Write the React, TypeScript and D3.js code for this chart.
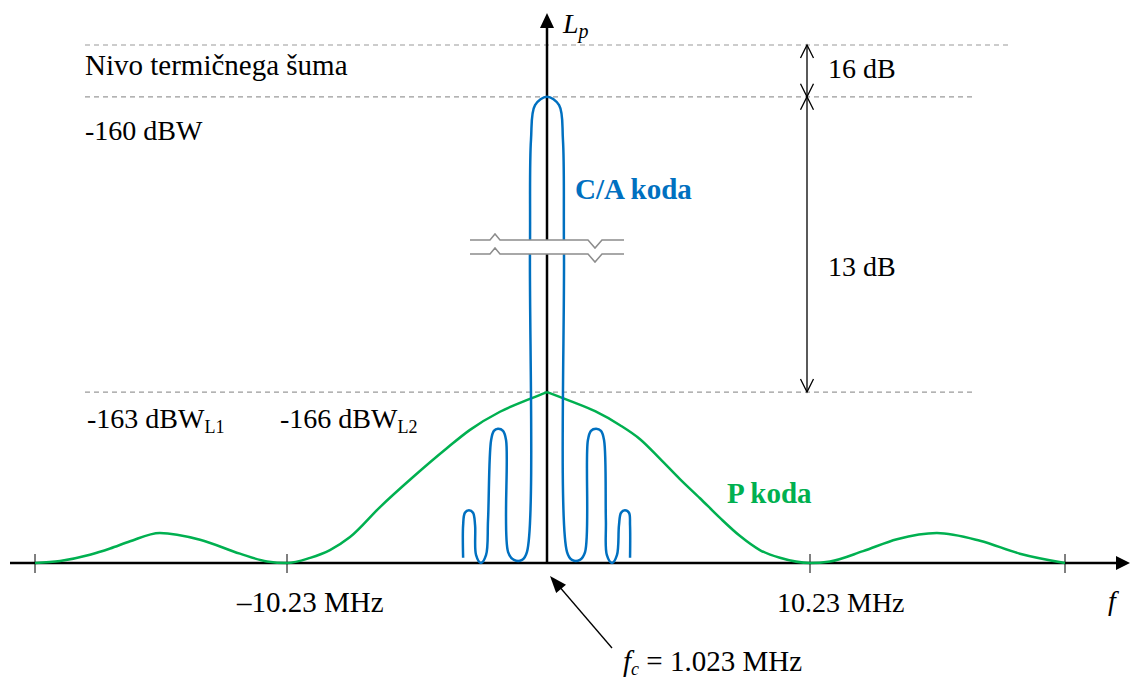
import React from 'react'
import * as d3 from 'd3'

const WIDTH = 1130
const HEIGHT = 678
const AXIS_Y = 563
const FONT = 'Liberation Serif, DejaVu Serif, serif'
const BLUE = '#0070C0'
const GREEN = '#00B050'

// frequency offset (MHz) of the axis ticks
const tickFreqs = [-20.46, -10.23, 10.23, 20.46]
const tickLabels = ['–10.23 MHz', '10.23 MHz']

// relative level (0 = axis, 100 = thermal noise)
const noiseLevel = 100
const caPeakLevel = 90
const pPeakLevel = 33

// P code envelope
const pFreq = [
  -20.46, -19.44, -18.23, -17.41, -16.6, -15.39, -13.76, -12.14, -11.04, -10.23,
  -9.32, -8.54, -7.75, -6.57, -5.27, -3.93, -3.03, -1.85, -0.67, 0,
  0.89, 1.87, 2.84, 3.62, 4.4, 5.17, 5.95, 6.73, 7.51, 8.28, 9.06, 10.23,
  11.03, 12.36, 13.72, 15.32, 17.05, 18.65, 20.46
]
const pLevel = [
  0, 0.4, 1.6, 2.8, 4.2, 5.8, 4.5, 1.8, 0.3, 0,
  1.0, 2.5, 5.0, 10.8, 16.6, 22.2, 25.7, 29.2, 31.7, 33,
  31.3, 29.3, 26.6, 23.9, 20.1, 16.2, 12.5, 8.7, 5.2, 2.5, 1.0, 0,
  0.3, 2.3, 4.6, 5.8, 4.3, 1.8, 0
]

// C/A code spectrum, traced as one line
const caFreq = [
  -3.3, -3.3, -3.23, -3.07, -2.91, -2.83, -2.79, -2.6, -2.4, -2.32, -2.2, -2.09, -1.93,
  -1.73, -1.61, -1.53, -1.3, -0.98, -0.79, -0.67, -0.63, -0.47, 0,
  0.47, 0.62, 0.66, 0.78, 0.97, 1.28, 1.48, 1.59, 1.71, 1.91, 2.1, 2.22, 2.29, 2.33,
  2.53, 2.72, 2.8, 2.88, 3.03, 3.19, 3.23, 3.23
]
const caLevel = [
  1.0, 7.3, 9.7, 10.2, 9.7, 7.3, 1.5, 0, 1.5, 8.3, 23.7, 25.5, 25.9,
  25.5, 23.7, 2.1, 0.6, 0.6, 2.1, 60.4, 81.7, 88.4, 90,
  88.4, 81.7, 60.4, 2.1, 0.6, 0.6, 2.1, 23.7, 25.5, 25.9, 25.5, 23.7, 8.3, 1.5,
  0, 1.5, 7.3, 9.7, 10.2, 9.7, 7.3, 1.0
]

const x = d3
  .scaleLinear()
  .domain([-20.46, -10.23, 0, 10.23, 20.46])
  .range([35, 287, 547, 810, 1065])

const y = d3.scaleLinear().domain([0, 100]).range([AXIS_Y, 45])

const pPoints = pFreq.map((f, i) => [f, pLevel[i]])
const caPoints = caFreq.map((f, i) => [f, caLevel[i]])

const pLine = d3
  .line()
  .x(d => x(d[0]))
  .y(d => y(d[1]))
  .curve(d3.curveMonotoneX)

const caLine = d3
  .line()
  .x(d => x(d[0]))
  .y(d => y(d[1]))
  .curve(d3.curveCatmullRom.alpha(0.5))

const openHead = (tx, ty, dir) => {
  // dir: 1 points down, -1 points up
  const len = 13
  const hw = 6.5
  return `M${tx - hw},${ty - dir * len}L${tx},${ty}L${tx + hw},${ty - dir * len}`
}

const filledHead = (tx, ty, fx, fy, len = 15, hw = 6.5) => {
  const dx = tx - fx
  const dy = ty - fy
  const d = Math.hypot(dx, dy)
  const ux = dx / d
  const uy = dy / d
  const bx = tx - ux * len
  const by = ty - uy * len
  return `M${tx},${ty}L${bx - uy * hw},${by + ux * hw}L${bx + uy * hw},${by - ux * hw}Z`
}

const App = () => {
  const x0 = x(0)
  const yNoise = y(noiseLevel)
  const yCa = y(caPeakLevel)
  const yP = y(pPeakLevel)
  const dimX = 807

  const breakY = 240
  const gap = 14
  const breakPts = (o: number) => [
    [470, breakY + o], [490, breakY + o], [495, breakY - 6 + o], [500, breakY + o],
    [588, breakY + o], [595, breakY + 8 + o], [602, breakY + o], [624, breakY + o]
  ]
  const upper = breakPts(0)
  const lower = breakPts(gap)
  const poly = d3.line()
  const fill = [...upper, ...lower.slice().reverse()]

  const text = { style: { fontFamily: FONT }, fontSize: 28, fill: '#000' }

  return (
    <svg
      width={WIDTH}
      height={HEIGHT}
      style={{ position: 'absolute', left: 0, top: 0, background: '#fff' }}
    >
      {/* reference levels */}
      <g stroke="#9a9a9a" strokeWidth={1.2} strokeDasharray="5,4">
        <line x1={85} x2={1008} y1={yNoise} y2={yNoise} />
        <line x1={85} x2={973} y1={yCa} y2={yCa} />
        <line x1={85} x2={973} y1={yP} y2={yP} />
      </g>

      {/* axes */}
      <line x1={10} x2={1118} y1={AXIS_Y} y2={AXIS_Y} stroke="#000" strokeWidth={2.5} />
      <path d={filledHead(1130, AXIS_Y, 10, AXIS_Y, 14, 7)} fill="#000" />
      <line x1={x0} x2={x0} y1={AXIS_Y} y2={26} stroke="#000" strokeWidth={2.5} />
      <path d={filledHead(x0, 13, x0, AXIS_Y, 15, 7)} fill="#000" />
      {tickFreqs.map(f => (
        <line key={f} x1={x(f)} x2={x(f)} y1={AXIS_Y - 9} y2={AXIS_Y + 10} stroke="#000" strokeWidth={1} />
      ))}

      {/* P code */}
      <path d={pLine(pPoints.filter(d => d[0] <= 0))} fill="none" stroke={GREEN} strokeWidth={2.5} />
      <path d={pLine(pPoints.filter(d => d[0] >= 0))} fill="none" stroke={GREEN} strokeWidth={2.5} />

      {/* C/A code */}
      <path d={caLine(caPoints)} fill="none" stroke={BLUE} strokeWidth={2.5} strokeLinejoin="round" />

      {/* axis break */}
      <path d={poly(fill) + 'Z'} fill="#fff" stroke="none" />
      <path d={poly(upper)} fill="none" stroke="#8c8c8c" strokeWidth={1.5} />
      <path d={poly(lower)} fill="none" stroke="#8c8c8c" strokeWidth={1.5} />

      {/* dimension arrows */}
      <g stroke="#000" strokeWidth={1.3} fill="none">
        <line x1={dimX} x2={dimX} y1={yNoise} y2={yP} />
        <path d={openHead(dimX, yNoise, -1)} />
        <path d={openHead(dimX, yCa, 1)} />
        <path d={openHead(dimX, yCa, -1)} />
        <path d={openHead(dimX, yP, 1)} />
      </g>
      <text x={828} y={78} {...text}>16 dB</text>
      <text x={828} y={276} {...text}>13 dB</text>

      {/* level labels */}
      <text x={85} y={75} {...text} fontSize={29}>Nivo termičnega šuma</text>
      <text x={85} y={140} {...text}>-160 dBW</text>
      <text x={87} y={428} {...text}>
        -163 dBW<tspan fontSize={18} dy={5}>L1</tspan>
      </text>
      <text x={280} y={428} {...text}>
        -166 dBW<tspan fontSize={18} dy={5}>L2</tspan>
      </text>

      {/* series labels */}
      <text x={575} y={199} {...text} fontSize={29} fontWeight="bold" fill={BLUE}>C/A koda</text>
      <text x={727} y={503} {...text} fontSize={29} fontWeight="bold" fill={GREEN}>P koda</text>

      {/* axis labels */}
      <text x={237} y={612} {...text} fontSize={29}>{tickLabels[0]}</text>
      <text x={777} y={612} {...text}>{tickLabels[1]}</text>
      <text x={1108} y={610} {...text} fontStyle="italic">f</text>
      <text x={563} y={33} {...text} fontStyle="italic">
        L<tspan fontSize={20} dy={5}>p</tspan>
      </text>

      {/* carrier marker */}
      <line x1={612} y1={648} x2={558} y2={585} stroke="#000" strokeWidth={1.3} />
      <path d={filledHead(550, 576, 612, 648, 17, 6.5)} fill="#000" />
      <text x={623} y={671} {...text} fontSize={29}>
        <tspan fontStyle="italic">f</tspan>
        <tspan fontStyle="italic" fontSize={18} dy={4}>c</tspan>
        <tspan dy={-4}> = 1.023 MHz</tspan>
      </text>
    </svg>
  )
}

export default App
